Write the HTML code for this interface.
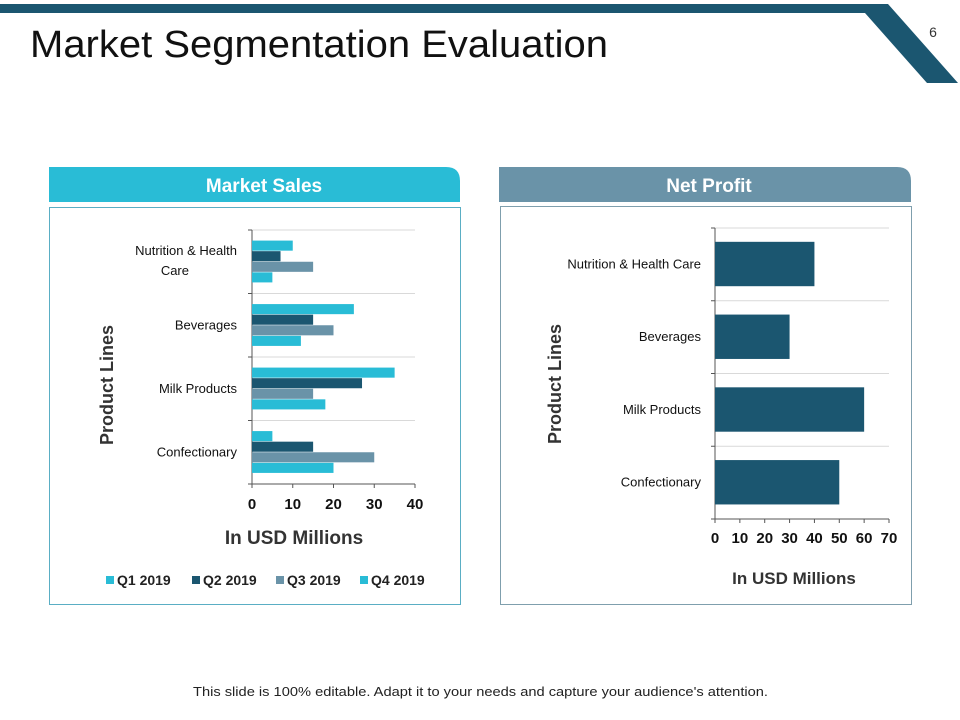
<!DOCTYPE html>
<html><head><meta charset="utf-8"><style>
html,body{margin:0;padding:0;background:#fff;}
body{width:960px;height:720px;overflow:hidden;position:relative;font-family:"Liberation Sans",sans-serif;}
svg{position:absolute;left:0;top:0;}
</style></head><body>
<svg id="s" width="960" height="720" viewBox="0 0 960 720">
<polygon points="0,4 888,4 958,83 927,83 865,13 0,13" fill="#1b5670"/>
<text x="933" y="37" font-size="14" fill="#333" text-anchor="middle">6</text>
<text x="30" y="57" font-size="38" fill="#111" textLength="578" lengthAdjust="spacingAndGlyphs">Market Segmentation Evaluation</text>
<path d="M49,167 H446 Q460,167 460,181 V202 H49 Z" fill="#29bcd6"/>
<text x="264" y="192" font-size="19" font-weight="bold" fill="#fff" text-anchor="middle">Market Sales</text>
<path d="M499,167 H897 Q911,167 911,181 V202 H499 Z" fill="#6a93a8"/>
<text x="709" y="192" font-size="19" font-weight="bold" fill="#fff" text-anchor="middle">Net Profit</text>
<rect x="49.5" y="207.5" width="411" height="397" fill="none" stroke="#5aaec4"/>
<rect x="500.5" y="206.5" width="411" height="398" fill="none" stroke="#7f9fad"/>
<g id="c1"></g><g id="c2"></g>
<text x="193" y="696" font-size="13" fill="#222" textLength="575" lengthAdjust="spacingAndGlyphs">This slide is 100% editable. Adapt it to your needs and capture your audience's attention.</text>
</svg>
<script>
const cats1 = ["Nutrition & Health Care","Beverages","Milk Products","Confectionary"];
const q1 = [5,12,18,20];
const q2 = [7,15,27,15];
const q3 = [15,20,15,30];
const q4 = [10,25,35,5];
const ticks1 = [0,10,20,30,40];
const cats2 = ["Nutrition & Health Care","Beverages","Milk Products","Confectionary"];
const profit = [40,30,60,50];
const ticks2 = [0,10,20,30,40,50,60,70];
const NS="http://www.w3.org/2000/svg";
function mk(p,t,a,txt){const e=document.createElementNS(NS,t);for(const k in a)e.setAttribute(k,a[k]);if(txt!==undefined)e.textContent=txt;p.appendChild(e);return e;}
// chart 1
(function(){
const g=document.getElementById('c1');
const x0=252,x1=415,y0=230,y1=484,max=40;
const sx=v=>x0+(v/max)*(x1-x0);
const band=(y1-y0)/cats1.length;
for(let i=0;i<=cats1.length;i++){const y=y0+i*band;
 if(i<cats1.length){const l=mk(g,'line',{x1:x0,x2:x1,y1:y,y2:y,stroke:'#d9d9d9'});}
 const t=mk(g,'line',{x1:x0-4,x2:x0,y1:y,y2:y,stroke:'#555'});}
const ax=mk(g,'line',{x1:x0,x2:x0,y1:y0,y2:y1,stroke:'#555'});
const bx=mk(g,'line',{x1:x0,x2:x1,y1:y1,y2:y1,stroke:'#555'});
const series=[[q4,'#29bcd6','q4'],[q2,'#1b5670','q2'],[q3,'#6a93a8','q3'],[q1,'#29bcd6','q1']];
const bh=band/6;
cats1.forEach((c,i)=>{
 const by=y0+i*band+bh;
 series.forEach((s,j)=>{const r=mk(g,'rect',{x:x0,y:by+j*bh,width:sx(s[0][i])-x0,height:bh-0.5,fill:s[1]});
  });
 const cy=y0+i*band+band/2;
 if(i===0){const t=mk(g,'text',{x:237,y:cy-7,'font-size':13,'text-anchor':'end',fill:'#111'},'Nutrition & Health');
  const t2=mk(g,'text',{x:189,y:cy+13,'font-size':13,'text-anchor':'end',fill:'#111'},'Care');}
 else{const t=mk(g,'text',{x:237,y:cy+4,'font-size':13,'text-anchor':'end',fill:'#111'},c);}
});
ticks1.forEach(v=>{const t=mk(g,'text',{x:sx(v),y:509,'font-size':15,'font-weight':'bold','text-anchor':'middle',fill:'#111'},v);
 const k=mk(g,'line',{x1:sx(v),x2:sx(v),y1:y1,y2:y1+4,stroke:'#555'});});
const yt=mk(g,'text',{x:0,y:0,'font-size':18,'font-weight':'bold','text-anchor':'middle',fill:'#333',transform:'translate(113,385) rotate(-90)'},'Product Lines');
const xt=mk(g,'text',{x:294,y:544,'font-size':19,'font-weight':'bold','text-anchor':'middle',fill:'#333'},'In USD Millions');
const leg=[['Q1 2019','#29bcd6',106],['Q2 2019','#1b5670',192],['Q3 2019','#6a93a8',276],['Q4 2019','#29bcd6',360]];
leg.forEach(l=>{const gg=mk(g,'g',{});
 mk(gg,'rect',{x:l[2],y:576,width:8,height:8,fill:l[1]});mk(gg,'text',{x:l[2]+11,y:585,'font-size':14,'font-weight':'bold',fill:'#222'},l[0]);});
})();
// chart 2
(function(){
const g=document.getElementById('c2');
const x0=715,x1=889,y0=228,y1=519,max=70;
const sx=v=>x0+(v/max)*(x1-x0);
const band=(y1-y0)/cats2.length;
for(let i=0;i<=cats2.length;i++){const y=y0+i*band;
 if(i<cats2.length){const l=mk(g,'line',{x1:x0,x2:x1,y1:y,y2:y,stroke:'#d9d9d9'});}
 const t=mk(g,'line',{x1:x0-4,x2:x0,y1:y,y2:y,stroke:'#555'});}
const ax=mk(g,'line',{x1:x0,x2:x0,y1:y0,y2:y1,stroke:'#555'});
const bx=mk(g,'line',{x1:x0,x2:x1,y1:y1,y2:y1,stroke:'#555'});
cats2.forEach((c,i)=>{
 const r=mk(g,'rect',{x:x0,y:y0+i*band+band*0.19,width:sx(profit[i])-x0,height:band*0.61,fill:'#1b5670'});
 
 const t=mk(g,'text',{x:701,y:y0+i*band+band/2+4,'font-size':13,'text-anchor':'end',fill:'#111'},c);
});
ticks2.forEach(v=>{const t=mk(g,'text',{x:sx(v),y:543,'font-size':15,'font-weight':'bold','text-anchor':'middle',fill:'#111'},v);
 const k=mk(g,'line',{x1:sx(v),x2:sx(v),y1:y1,y2:y1+4,stroke:'#555'});});
const yt=mk(g,'text',{x:0,y:0,'font-size':18,'font-weight':'bold','text-anchor':'middle',fill:'#333',transform:'translate(561,384) rotate(-90)'},'Product Lines');
const xt=mk(g,'text',{x:794,y:584,'font-size':17,'font-weight':'bold','text-anchor':'middle',fill:'#333'},'In USD Millions');
})();
</script>
</body></html>
